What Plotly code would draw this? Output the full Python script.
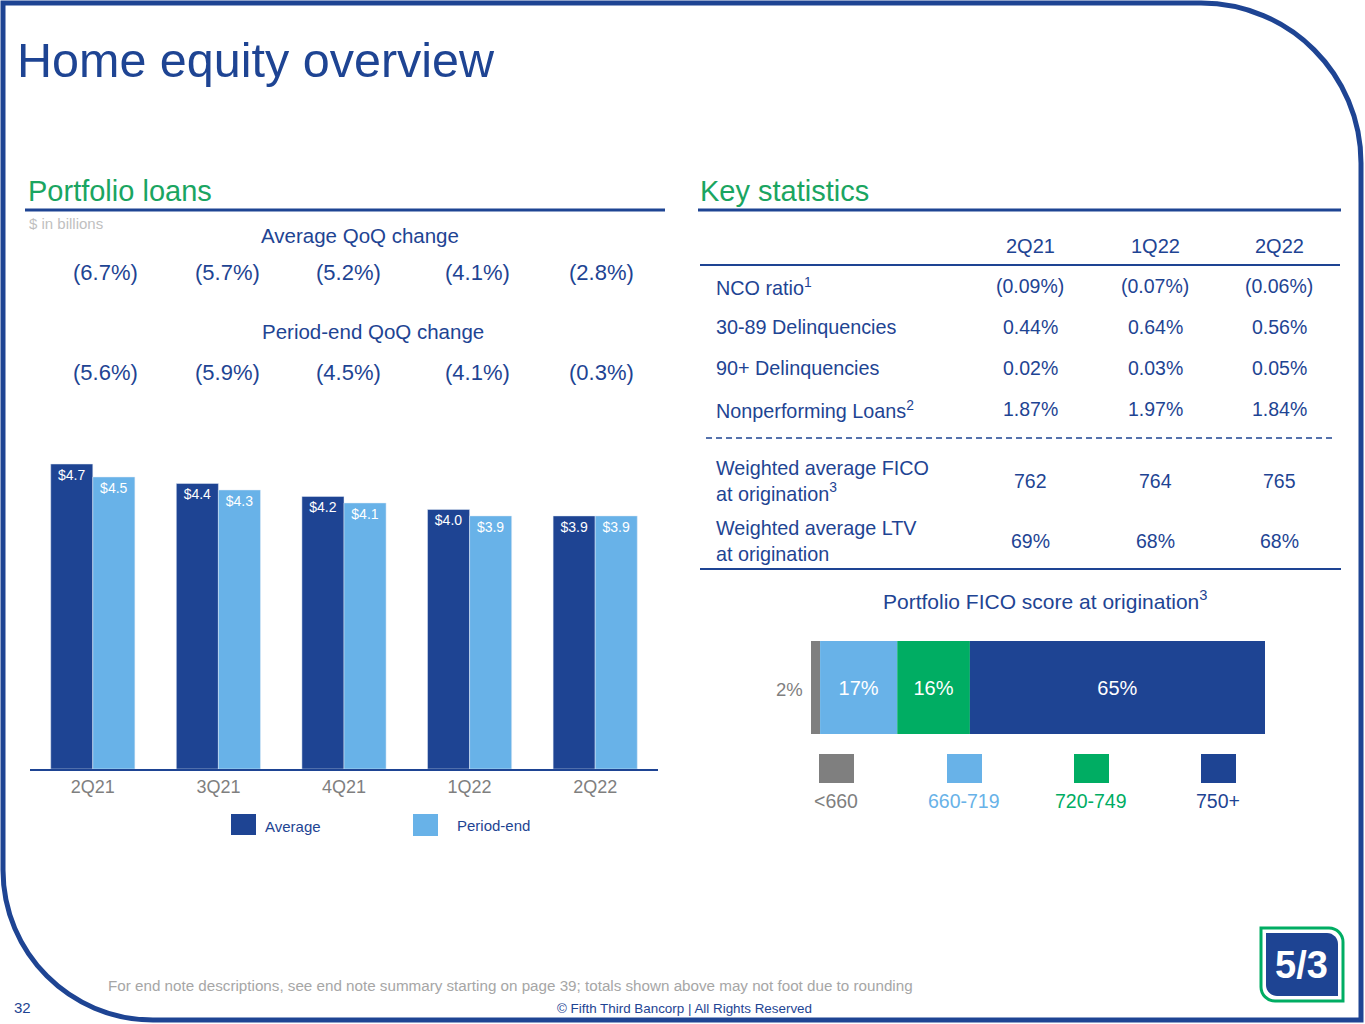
import plotly.graph_objs as go

W, H = 1365, 1024
FONT = 'Liberation Sans, Arial, sans-serif'
DARK = '#1E4493'
LIGHT = '#68B2E8'
GREEN = '#00AD63'
TITLE_GREEN = '#1AA561'
GRAY = '#7F7F7F'

quarters = ['2Q21', '3Q21', '4Q21', '1Q22', '2Q22']
avg_loans = [4.7, 4.4, 4.2, 4.0, 3.9]
period_end_loans = [4.5, 4.3, 4.1, 3.9, 3.9]
avg_qoq = ['(6.7%)', '(5.7%)', '(5.2%)', '(4.1%)', '(2.8%)']
pe_qoq = ['(5.6%)', '(5.9%)', '(4.5%)', '(4.1%)', '(0.3%)']

stat_quarters = ['2Q21', '1Q22', '2Q22']
stat_labels = ['NCO ratio<sup>1</sup>', '30-89 Delinquencies', '90+ Delinquencies',
               'Nonperforming Loans<sup>2</sup>',
               'Weighted average FICO<br>at origination<sup>3</sup>',
               'Weighted average LTV<br>at origination']
stats_2q21 = ['(0.09%)', '0.44%', '0.02%', '1.87%', '762', '69%']
stats_1q22 = ['(0.07%)', '0.64%', '0.03%', '1.97%', '764', '68%']
stats_2q22 = ['(0.06%)', '0.56%', '0.05%', '1.84%', '765', '68%']

fico_bands = ['<660', '660-719', '720-749', '750+']
fico_share = [2, 17, 16, 65]


def px(x):
    return x / W


def py(y):
    return 1 - y / H


annotations = []


def note(x, y, text, size, color, xanchor='center', align='center'):
    annotations.append(dict(x=px(x), y=py(y), xref='paper', yref='paper', text=text,
                            showarrow=False, xanchor=xanchor, yanchor='middle', align=align,
                            font=dict(family=FONT, size=size, color=color)))


fig = go.Figure()

# portfolio loans bars
fig.add_trace(go.Bar(x=quarters, y=avg_loans, name='Average', marker_color=DARK,
                     text=[f'${v:.1f}' for v in avg_loans], textposition='inside',
                     insidetextanchor='end', textfont=dict(family=FONT, size=14, color='white'),
                     xaxis='x', yaxis='y'))
fig.add_trace(go.Bar(x=quarters, y=period_end_loans, name='Period-end', marker_color=LIGHT,
                     text=[f'${v:.1f}' for v in period_end_loans], textposition='inside',
                     insidetextanchor='end', textfont=dict(family=FONT, size=14, color='white'),
                     xaxis='x', yaxis='y'))

# FICO stacked bar (drawn with base so it stays apart from the grouped bars)
fico_colors = [GRAY, LIGHT, GREEN, DARK]
start = 0
for band, share, col in zip(fico_bands, fico_share, fico_colors):
    bar = dict(y=['FICO'], x=[share], base=[start], orientation='h', width=1,
               offsetgroup='fico', marker=dict(color=col, line_width=0),
               xaxis='x2', yaxis='y2', name=band)
    if share > 5:
        bar.update(text=[f'{share}%'], textposition='inside', insidetextanchor='middle',
                   textfont=dict(family=FONT, size=20, color='white'))
    fig.add_trace(go.Bar(**bar))
    start += share

# headings
note(15, 60, 'Home equity overview', 48.5, DARK, xanchor='left')
note(26, 191, 'Portfolio loans', 29, TITLE_GREEN, xanchor='left')
note(698, 191, 'Key statistics', 29, TITLE_GREEN, xanchor='left')
note(27, 223, '$ in billions', 15, '#BFBFBF', xanchor='left')

# QoQ change rows
note(360, 235, 'Average QoQ change', 20.5, DARK)
note(373, 331, 'Period-end QoQ change', 20.5, DARK)
qoq_x = [105, 228, 348, 478, 601]
for xx, a, p in zip(qoq_x, avg_qoq, pe_qoq):
    note(xx, 272, a, 22, DARK)
    note(xx, 372, p, 22, DARK)

# bar legend
note(263, 826, 'Average', 15, DARK, xanchor='left')
note(455, 825, 'Period-end', 15, DARK, xanchor='left')

# key statistics table
col_x = [1030, 1155, 1279]
row_y = [286, 327, 368, 409, 481, 541]
for xx, q in zip(col_x, stat_quarters):
    note(xx, 246, q, 20, DARK)
for yy, lab in zip(row_y, stat_labels):
    note(714, yy, lab, 19.8, DARK, xanchor='left', align='left')
for xx, col in zip(col_x, [stats_2q21, stats_1q22, stats_2q22]):
    for yy, v in zip(row_y, col):
        note(xx, yy, v, 19.5, DARK)

# FICO chart text
note(1045, 600, 'Portfolio FICO score at origination<sup>3</sup>', 21, DARK)
note(805, 689, f'{fico_share[0]}%', 18.5, GRAY, xanchor='right')
legend_x = [836, 964, 1091, 1218]
label_cols = [GRAY, LIGHT, GREEN, DARK]
for xx, band, col in zip(legend_x, fico_bands, label_cols):
    note(xx, 801, band, 19.5, col)

# footer
note(510, 985, 'For end note descriptions, see end note summary starting on page 39; '
     'totals shown above may not foot due to rounding', 15.2, '#A6A6A6')
note(684, 1008, '© Fifth Third Bancorp | All Rights Reserved', 13.4, DARK)
note(12, 1007, '32', 15, DARK, xanchor='left')
note(1301, 965, '<b>5/3</b>', 38, 'white')

shapes = []


def line(x0, y0, x1, y1, width, color=DARK, dash='solid'):
    shapes.append(dict(type='line', xref='paper', yref='paper', x0=px(x0), y0=py(y0),
                       x1=px(x1), y1=py(y1), line=dict(color=color, width=width, dash=dash)))


def rect(x0, y0, x1, y1, color):
    shapes.append(dict(type='rect', xref='paper', yref='paper', x0=px(x0), y0=py(y0),
                       x1=px(x1), y1=py(y1), fillcolor=color, line_width=0))


def path(points, color, width=0, fill=None):
    # points: list of (cmd, [x, y, ...]) in pixels
    parts = []
    for cmd, coords in points:
        xy = []
        for i in range(0, len(coords), 2):
            xy.append(f'{px(coords[i]):.5f},{py(coords[i + 1]):.5f}')
        parts.append(cmd + ' ' + ' '.join(xy))
    shapes.append(dict(type='path', xref='paper', yref='paper', path=' '.join(parts) + ' Z',
                       line=dict(color=color, width=width), fillcolor=fill or 'rgba(0,0,0,0)'))


# section rules and table rules
line(25, 210, 665, 210, 3)
line(698, 210, 1341, 210, 3)
line(700, 265, 1340, 265, 2)
line(706, 438, 1336, 438, 1.5, dash='6px,4px')
line(700, 569, 1341, 569, 2)

# legend swatches
rect(231, 814, 256, 835, DARK)
rect(413, 814, 438, 836, LIGHT)
for xx, col in zip(legend_x, fico_colors):
    rect(xx - 17, 754, xx + 18, 783, col)

# slide frame with rounded corners
k = 0.5523
R1, R2 = 160, 150
path([('M', [3, 1020 - R2]), ('L', [3, 3]), ('L', [1361 - R1, 3]),
      ('C', [1361 - R1 + k * R1, 3, 1361, 3 + R1 - k * R1, 1361, 3 + R1]),
      ('L', [1361, 1020]), ('L', [3 + R2, 1020]),
      ('C', [3 + R2 - k * R2, 1020, 3, 1020 - R2 + k * R2, 3, 1020 - R2])],
     DARK, width=5)

# logo
r = 14
path([('M', [1261, 928]), ('L', [1343 - r, 928]),
      ('C', [1343 - r + k * r, 928, 1343, 928 + r - k * r, 1343, 928 + r]),
      ('L', [1343, 1001]), ('L', [1261 + r, 1001]),
      ('C', [1261 + r - k * r, 1001, 1261, 1001 - r + k * r, 1261, 1001 - r])],
     GREEN, width=3, fill='white')
r = 11
path([('M', [1266, 933]), ('L', [1338 - r, 933]),
      ('C', [1338 - r + k * r, 933, 1338, 933 + r - k * r, 1338, 933 + r]),
      ('L', [1338, 996]), ('L', [1266 + r, 996]),
      ('C', [1266 + r - k * r, 996, 1266, 996 - r + k * r, 1266, 996 - r])],
     DARK, width=0, fill=DARK)

fig.update_layout(
    width=W, height=H,
    margin=dict(l=0, r=0, t=0, b=0),
    paper_bgcolor='white', plot_bgcolor='white',
    showlegend=False,
    barmode='group', bargap=0.33, bargroupgap=0,
    font=dict(family=FONT),
    xaxis=dict(domain=[px(30), px(658)], showline=True, linecolor=DARK, linewidth=2,
               showgrid=False, ticks='', tickfont=dict(family=FONT, size=18, color=GRAY),
               fixedrange=True),
    yaxis=dict(domain=[py(769), py(440)], range=[0, 5.07], visible=False, fixedrange=True),
    xaxis2=dict(domain=[px(811), px(1265)], range=[0, 100], visible=False, anchor='y2'),
    yaxis2=dict(domain=[py(734), py(641)], range=[-0.5, 0.5], visible=False, anchor='x2'),
    annotations=annotations,
    shapes=shapes,
)

# the page body has a default 8px margin; drop it so the slide fills the window
fig.write_html('out.html', config={'displayModeBar': False},
               post_script="document.body.style.margin='0';")
